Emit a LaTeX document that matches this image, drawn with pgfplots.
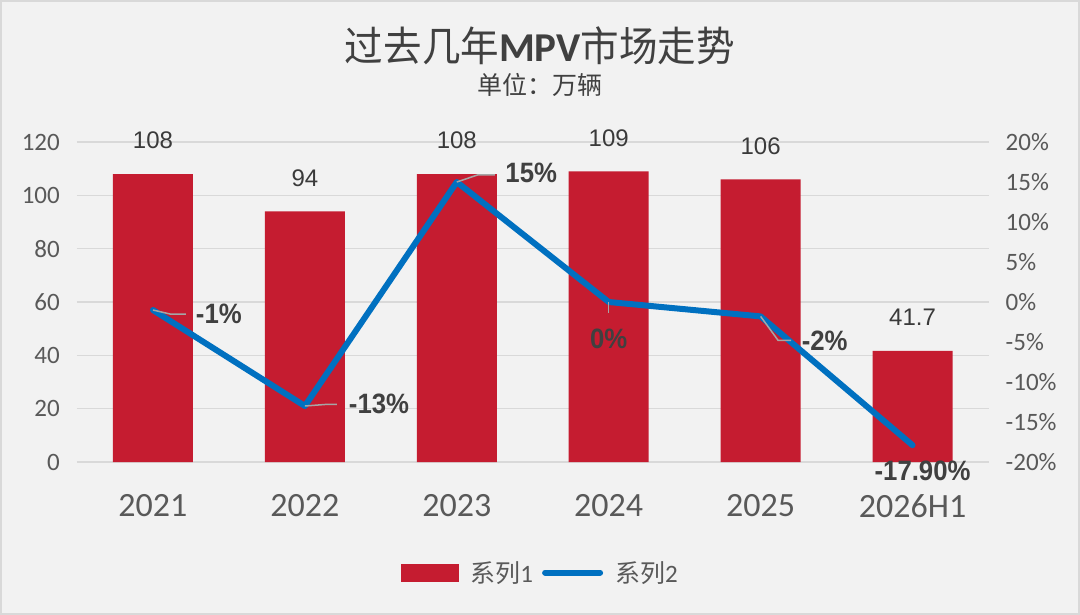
\documentclass[border=0pt]{standalone}
\usepackage{pgfplots}
\pgfplotsset{compat=1.18}
\usepackage{fontspec}
\setmainfont{Carlito}
\newfontfamily\cjk{Noto Sans CJK SC}
\newfontfamily\cjktitle{Noto Sans CJK SC}[FakeStretch=0.94]
\newfontfamily\arialf{Liberation Sans}
\newfontfamily\arialn{Liberation Sans}[FakeStretch=0.92]
\definecolor{bg}{HTML}{F2F2F2}
\definecolor{framec}{HTML}{D9D9D9}
\definecolor{gridc}{HTML}{D9D9D9}
\definecolor{barred}{HTML}{C51C30}
\definecolor{lineblue}{HTML}{0070C0}
\definecolor{tickc}{HTML}{595959}
\definecolor{labc}{HTML}{404040}
\definecolor{barlabc}{HTML}{3A3A3A}
\definecolor{leadc}{HTML}{A6A6A6}

\begin{document}
\begin{tikzpicture}
\useasboundingbox (0,0) rectangle (1080pt,-615pt);
\fill[bg] (0,0) rectangle (1080pt,-615pt);
\draw[framec, line width=2pt] (1pt,-1pt) rectangle (1079pt,-614pt);
\node[anchor=base, text=labc, inner sep=0pt] at (540pt,-61.5pt)
  {\fontsize{41}{41}\selectfont{\cjktitle 过去几年}\textbf{MPV}{\cjktitle 市场走势}};
\node[anchor=base, text=labc, inner sep=0pt] at (540pt,-94.3pt)
  {\fontsize{25}{25}\selectfont\cjk 单位：万辆};

\begin{axis}[
  at={(77pt,-462pt)}, anchor=south west,
  scale only axis, width=911.5pt, height=320pt,
  xmin=-0.5, xmax=5.5, ymin=0, ymax=120,
  axis x line*=bottom, axis y line*=left,
  axis line style={draw=none},
  major tick length=0pt,
  xtick={0,1,2,3,4,5}, xticklabels={2021,2022,2023,2024,2025,2026H1},
  ytick={0,20,40,60,80,100,120}, yticklabels={0,20,40,60,80,100,120},
  ymajorgrids, grid style={draw=gridc, line width=1.3pt},
  xticklabel style={anchor=center, inner sep=0pt, yshift=-44pt, font=\fontsize{34}{34}\selectfont, text=tickc},
  yticklabel style={anchor=east, inner sep=0pt, xshift=-17pt, font=\fontsize{25}{25}\selectfont, text=tickc},
  clip=false,
]
\addplot[ybar, bar width=80pt, fill=barred, draw=none] coordinates {(0,108) (1,94) (2,108) (3,109) (4,106) (5,41.7)};
\addplot[draw=none, mark=none, point meta=explicit symbolic, nodes near coords,
  nodes near coords style={anchor=center, yshift=33.5pt, font=\arialf\fontsize{24}{24}\selectfont, text=barlabc, inner sep=0pt}]
  coordinates {(0,108)[108] (1,94)[94] (2,108)[108] (3,109)[109] (4,106)[106] (5,41.7)[41.7]};
\end{axis}

\begin{axis}[
  at={(77pt,-462pt)}, anchor=south west,
  scale only axis, width=911.5pt, height=320pt,
  xmin=-0.5, xmax=5.5, ymin=-20, ymax=20,
  axis y line*=right, axis x line=none, axis line style={draw=none},
  major tick length=0pt,
  ytick={-20,-15,-10,-5,0,5,10,15,20},
  yticklabels={-20\%,-15\%,-10\%,-5\%,0\%,5\%,10\%,15\%,20\%},
  yticklabel style={anchor=west, inner sep=0pt, xshift=17pt, font=\fontsize{25}{25}\selectfont, text=tickc},
  clip=false,
  legend style={at={(0.5073,-0.3453)}, anchor=center, draw=none, fill=none, legend columns=2,
    inner sep=0pt, nodes={inner sep=0pt}, font=\fontsize{25}{25}\selectfont, text=tickc,
    /tikz/every odd column/.append style={column sep=12pt},
    /tikz/every even column/.append style={column sep=9pt}},
]
\addlegendimage{legend image code/.code={\fill[barred] (0pt,-8.5pt) rectangle (57pt,8.5pt);}}
\addlegendentry{{\cjk 系列}1}
\addplot[color=lineblue, line width=6pt, line join=round, line cap=round, mark=none,
  legend image code/.code={\draw[lineblue, line width=6pt, line cap=round] (3pt,0pt) -- (58pt,0pt);}]
  coordinates {(0,-1) (1,-13) (2,15) (3,0) (4,-1.8) (5,-17.9)};
\addlegendentry{{\cjk 系列}2}
\addplot[color=leadc, line width=1.5pt, forget plot] coordinates {(0,-1) (0.112,-1.5) (0.217,-1.5)};
\addplot[color=leadc, line width=1.5pt, forget plot] coordinates {(1,-13) (1.14,-12.8) (1.21,-12.8)};
\addplot[color=leadc, line width=1.5pt, forget plot] coordinates {(2,15) (2.14,15.9) (2.25,15.9)};
\addplot[color=leadc, line width=1.5pt, forget plot] coordinates {(3,0) (3,-1.4)};
\addplot[color=leadc, line width=1.5pt, forget plot] coordinates {(4,-1.8) (4.115,-4.8) (4.2,-4.8)};
\addplot[draw=none, mark=none, forget plot, point meta=explicit symbolic, nodes near coords,
  nodes near coords style={anchor=center, font=\arialn\bfseries\fontsize{28}{28}\selectfont, text=labc, inner sep=0pt}]
  coordinates {(0.434,-1.5)[-1\%] (1.488,-12.7)[-13\%] (2.49,16.1)[15\%] (3.0,-4.56)[0\%] (4.422,-4.9)[-2\%] (5.066,-21.1)[-17.90\%]};
\end{axis}
\end{tikzpicture}
\end{document}
